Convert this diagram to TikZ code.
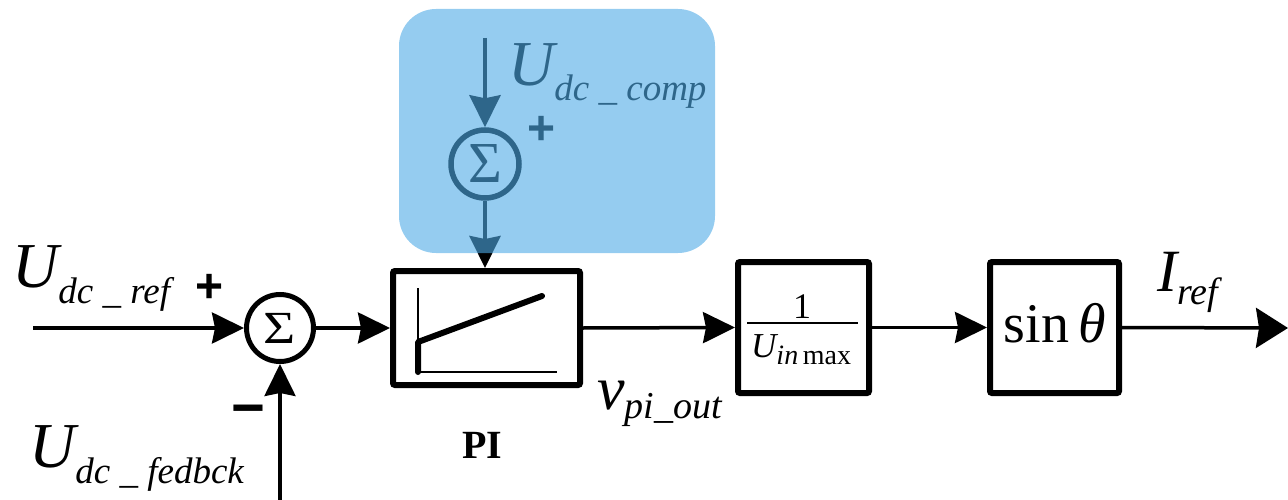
\documentclass[tikz,border=0pt]{standalone}
\usepackage{fontspec}
\setmainfont{Liberation Serif}
\newfontfamily\tms{Liberation Serif}
\newfontfamily\tit{Liberation Serif Italic}
\newfontfamily\sansfont{Liberation Sans}
\usetikzlibrary{arrows.meta}
\definecolor{ovl}{RGB}{78,170,230}
\newcommand{\fsz}[1]{\fontsize{#1}{#1}\selectfont}
\begin{document}
\begin{tikzpicture}[x=1pt,y=-1pt,
  font=\tms,
  arr/.style={line width=3.5pt,-{Stealth[length=32pt,width=31pt,inset=3pt]}},
  blk/.style={draw,line width=6pt,rounded corners=2pt,inner sep=0pt},
  sumnode/.style={draw,circle,line width=5pt,minimum size=67pt,inner sep=0pt},
  lbl/.style={anchor=base west,inner sep=0pt},
  sign/.style={anchor=base,inner sep=0pt,font=\sansfont\bfseries\fsz{48}}
]
\useasboundingbox (0,0) rectangle (1288,500);

% summing junctions
\node[sumnode] (s1) at (280,328) {\tms\fsz{46}\scalebox{1.2}[1]{Σ}};
\node[sumnode,minimum size=68pt,line width=5.5pt] (s2) at (485,164) {\tms\fsz{58}Σ};

% blocks
\node[blk,minimum width=187pt,minimum height=114pt] (pi) at (486.5,328) {};
\node[blk,minimum width=131pt,minimum height=131pt] (b2) at (803.5,327.5) {};
\node[blk,minimum width=129pt,minimum height=131pt] (b3) at (1054.5,327.5) {};

% PI characteristic
\draw[line width=1.5pt] (418,288) -- (418,372) -- (557,372);
\draw[line width=6pt,line cap=round,line join=round] (418,372) -- (418,342) -- (542,296);
\node[anchor=base,inner sep=0pt] (pil) at (482,458) {\tms\fsz{40}\bfseries PI};

% fraction block
\node[anchor=base,inner sep=0pt] (one) at (802,318) {\tms\fsz{36}1};
\draw[line width=2pt] (747,323) -- (858,323);
\node[lbl] (den) at (751,357) {\tit\fsz{35}U\raisebox{-7pt}{\fsz{28}in\,\tms max}};

% sin block
\node[anchor=base,inner sep=0pt] (sintxt) at (1055,342) {\tms\fsz{56}sin\,{\tit θ}};

% connectors
\coordinate (cin) at (33,328);
\coordinate (cfb) at (280,500);
\coordinate (cout) at (1288,328);
\coordinate (ctop) at (485,38);
\draw[arr] (cin) -- (s1.west);
\draw[arr] (cfb) -- (s1.south);
\draw[arr] (s1.east) -- (pi.west);
\draw[arr] (pi.east) -- (b2.west);
\draw[arr] (b2.east) -- (b3.west);
\draw[line width=3.5pt,-{Stealth[length=32pt,width=40pt,inset=3pt]}] (b3.east) -- (cout);
\draw[arr,line width=4pt] (ctop) -- (s2.north);
\draw[arr,line width=4pt] (s2.south) -- (s2.south |- pi.north);

% labels
\node[lbl] (lref) at (12,287) {\tit\fsz{64}U\raisebox{-16pt}{\fsz{37}dc\ \_\ ref}};
\node[lbl] (lfb) at (29,467) {\tit\fsz{64}U\raisebox{-16pt}{\fsz{37}dc\ \_\ fedbck}};
\node[lbl] (lcomp) at (508,86) {\tit\fsz{64}U\raisebox{-15pt}{\fsz{37}dc\ \_\ comp}};
\node[lbl] (lv) at (597,409) {\tit\fsz{62}v\raisebox{-9pt}{\fsz{38}pi\_out}};
\node[lbl] (li) at (1157,291) {\tit\fsz{60}I\raisebox{-13pt}{\fsz{38}ref}};

% signs
\node[sign] (p1) at (210,302) {+};
\node[sign] (p2) at (542,145) {+};
\node[sign,font=\sansfont\bfseries\fsz{58}] (m1) at (248,427) {−};

% translucent highlight
\fill[ovl,opacity=0.6,rounded corners=37pt] (399,9) rectangle (715,253);
\end{tikzpicture}
\end{document}
